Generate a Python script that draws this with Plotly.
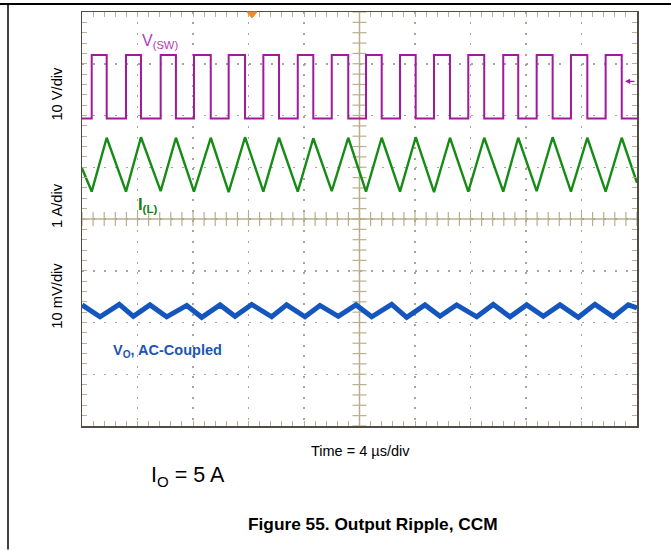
import numpy as np
import plotly.graph_objects as go

# ---------------- data ----------------
# time axis: 4 us/div, 10 divisions
TIME_US_PER_DIV = 4
N_XDIV = 10
N_YDIV = 8

# CH1 : V(SW), 10 V/div
vsw_scale_v_per_div = 10.0
vsw_position_div = 1.94
vsw_low_v = 0.0
vsw_high_v = 12.3
vsw_rise_us = [0.70, 3.17, 5.67, 8.07, 10.57, 13.07, 15.55, 18.00,
               20.47, 22.92, 25.37, 27.84, 30.36, 32.77, 35.24, 37.74]
vsw_fall_us = [1.78, 4.25, 6.77, 9.28, 11.75, 14.20, 16.67, 19.19,
               21.60, 24.05, 26.52, 28.99, 31.44, 33.92, 36.42, 38.90]

# CH2 : I(L), 1 A/div
il_scale_a_per_div = 1.0
il_position_div = -3.95
il_valley_a = [4.48, 4.48, 4.49, 4.48, 4.47, 4.48, 4.48, 4.49,
               4.48, 4.48, 4.47, 4.48, 4.48, 4.49, 4.48, 4.48]
il_peak_a = [5.52, 5.53, 5.52, 5.52, 5.53, 5.52, 5.51, 5.52,
             5.52, 5.53, 5.52, 5.52, 5.52, 5.53, 5.52, 5.52]
il_start_a = 4.93
il_end_a = 4.65

# CH3 : Vo, AC-coupled, 10 mV/div
vo_scale_mv_per_div = 10.0
vo_position_div = -1.78
vo_peak_us = [2.69, 4.90, 7.55, 9.95, 12.23, 14.75, 17.15, 19.75,
              22.32, 24.72, 27.00, 29.64, 32.05, 34.45, 36.97, 39.37]
vo_peak_mv = [1.3, 1.2, 1.1, 1.2, 1.3, 1.2, 1.1, 1.2,
              1.3, 1.2, 1.2, 1.3, 1.2, 1.2, 1.3, 1.2]
vo_valley_us = [1.30, 3.70, 6.10, 8.63, 11.03, 13.67, 16.07, 18.47,
                20.88, 23.40, 25.80, 28.45, 30.85, 33.25, 35.77, 38.29]
vo_valley_mv = [-1.1, -1.0, -1.1, -1.2, -1.0, -1.1, -1.1, -1.0,
                -1.1, -1.2, -1.0, -1.1, -1.1, -1.0, -1.2, -1.1]
vo_start_mv = 1.2
vo_end_mv = 0.6

trigger_level_v = 7.2

# ---------------- build traces ----------------
t_end = TIME_US_PER_DIV * N_XDIV


def vsw_div(v):
    return vsw_position_div + v / vsw_scale_v_per_div


def il_div(a):
    return il_position_div + a / il_scale_a_per_div


def vo_div(mv):
    return vo_position_div + mv / vo_scale_mv_per_div


sw_t, sw_y = [0.0], [vsw_div(vsw_low_v)]
for tr, tf in zip(vsw_rise_us, vsw_fall_us):
    sw_t += [tr, tr, tf, tf]
    sw_y += [vsw_div(vsw_low_v), vsw_div(vsw_high_v), vsw_div(vsw_high_v), vsw_div(vsw_low_v)]
sw_t.append(t_end)
sw_y.append(vsw_div(vsw_low_v))

il_t, il_y = [0.0], [il_div(il_start_a)]
for tr, tf, lo, hi in zip(vsw_rise_us, vsw_fall_us, il_valley_a, il_peak_a):
    il_t += [tr, tf]
    il_y += [il_div(lo), il_div(hi)]
il_t.append(t_end)
il_y.append(il_div(il_end_a))

vo_pts = sorted(list(zip(vo_peak_us, vo_peak_mv)) + list(zip(vo_valley_us, vo_valley_mv)))
vo_t = [0.0] + [p[0] for p in vo_pts] + [t_end]
vo_y = [vo_div(vo_start_mv)] + [vo_div(p[1]) for p in vo_pts] + [vo_div(vo_end_mv)]

# ---------------- styling ----------------
W, H = 671, 550
PL, PR, PT, PB = 82, 637, 10, 426
TAN = "#b9af8c"
DOT = "#a9a596"
FRAME = "#4e4c44"
MAG = "#a2189f"
GRN = "#168c16"
BLU = "#1456be"
FONT = "Liberation Sans, Arial, sans-serif"


def px(x):
    return (x - PL) / (PR - PL)


def py(y):
    return (PB - y) / (PB - PT)


fig = go.Figure()

# centre cross-hair minor ticks
xt = np.arange(0, t_end + 1e-9, TIME_US_PER_DIV / 5)
yt = np.arange(-N_YDIV / 2, N_YDIV / 2 + 1e-9, 0.2)
fig.add_trace(go.Scatter(x=xt, y=[0] * len(xt), mode="markers", hoverinfo="skip",
                         marker=dict(symbol="line-ns", size=10,
                                     line=dict(color=TAN, width=1.2)),
                         showlegend=False))
fig.add_trace(go.Scatter(x=[t_end / 2] * len(yt), y=yt, mode="markers", hoverinfo="skip",
                         marker=dict(symbol="line-ew", size=10,
                                     line=dict(color=TAN, width=1.2)),
                         showlegend=False))

fig.add_trace(go.Scatter(x=sw_t, y=sw_y, mode="lines", line=dict(color=MAG, width=2),
                         showlegend=False, name="V(SW)"))
fig.add_trace(go.Scatter(x=il_t, y=il_y, mode="lines", line=dict(color=GRN, width=2.4),
                         showlegend=False, name="I(L)"))
fig.add_trace(go.Scatter(x=vo_t, y=vo_y, mode="lines", line=dict(color=BLU, width=5),
                         showlegend=False, name="Vo"))

axis_common = dict(showticklabels=False, zeroline=False, showline=True,
                   linecolor=FRAME, linewidth=1.5, mirror="allticks",
                   ticks="inside", ticklen=5, tickwidth=1, tickcolor=TAN,
                   showgrid=True, gridcolor=DOT, gridwidth=1.5, fixedrange=True)

fig.update_xaxes(range=[0, t_end], dtick=TIME_US_PER_DIV, tick0=0,
                 griddash="2px,8.4px",
                 minor=dict(dtick=TIME_US_PER_DIV / 5, tick0=0, ticks="inside", ticklen=5,
                            tickcolor=TAN, showgrid=False),
                 **axis_common)
fig.update_yaxes(range=[-N_YDIV / 2, N_YDIV / 2], dtick=1, tick0=0,
                 griddash="2px,9.1px",
                 minor=dict(dtick=0.2, tick0=0, ticks="inside", ticklen=5,
                            tickcolor=TAN, showgrid=False),
                 **axis_common)

shapes = [
    # centre lines
    dict(type="line", xref="x", yref="paper", x0=t_end / 2, x1=t_end / 2, y0=0, y1=1,
         line=dict(color=TAN, width=1.5), layer="below"),
    dict(type="line", xref="paper", yref="y", x0=0, x1=1, y0=0, y1=0,
         line=dict(color=TAN, width=1.5), layer="below"),
    # page rules
    dict(type="line", xref="paper", yref="paper", x0=px(0), x1=px(W), y0=py(2), y1=py(2),
         line=dict(color="black", width=2)),
    dict(type="line", xref="paper", yref="paper", x0=px(8), x1=px(8), y0=py(2), y1=py(H),
         line=dict(color="black", width=1.5)),
    # trigger-position marker
    dict(type="path", xref="paper", yref="paper",
         path=f"M {px(247)} {py(10)} L {px(257)} {py(10)} L {px(252)} {py(16)} Z",
         fillcolor="#f0892a", line=dict(color="#f0892a", width=1)),
]
fig.update_layout(shapes=shapes)

ann = []


def text(x, y, s, size, color="black", family=FONT, xanchor="center", angle=0):
    ann.append(dict(xref="paper", yref="paper", x=px(x), y=py(y), text=s, showarrow=False,
                    xanchor=xanchor, yanchor="middle", textangle=angle,
                    font=dict(family=family, size=size, color=color)))


text(57, 92, "10 V/div", 14.7, angle=-90)
text(57, 205, "1 A/div", 14.7, angle=-90)
text(57, 295, "10 mV/div", 14.7, angle=-90)
text(140, 40, "V<sub>(SW)</sub>", 16, color="#b43ab2", xanchor="left")
text(136, 204, "<b>I<sub>(L)</sub></b>", 16.5, color="#137f13", xanchor="left")
text(111, 351, "<b>V<sub>O</sub>, AC-Coupled</b>", 14.5, color="#1c56b4", xanchor="left")
text(360, 451, "Time = 4 µs/div", 14.5)
text(149, 477, "I<sub>O</sub> = 5 A", 21.5, xanchor="left")
text(373, 524, "<b>Figure 55. Output Ripple, CCM</b>", 17.3)

# trigger level arrow on the right edge
trig_y = vsw_div(trigger_level_v)
ann.append(dict(xref="paper", yref="y", x=px(625), y=trig_y, ax=11, ay=0, text="",
                showarrow=True, arrowhead=2, arrowsize=0.8, arrowwidth=1.3, arrowcolor=MAG))

fig.update_layout(annotations=ann, width=W, height=H,
                  margin=dict(l=PL, r=W - PR, t=PT, b=H - PB),
                  plot_bgcolor="white", paper_bgcolor="white")

fig.write_html("out.html", config={"displayModeBar": False, "staticPlot": True},
               post_script="document.body.style.margin='0';document.body.style.padding='0';")
